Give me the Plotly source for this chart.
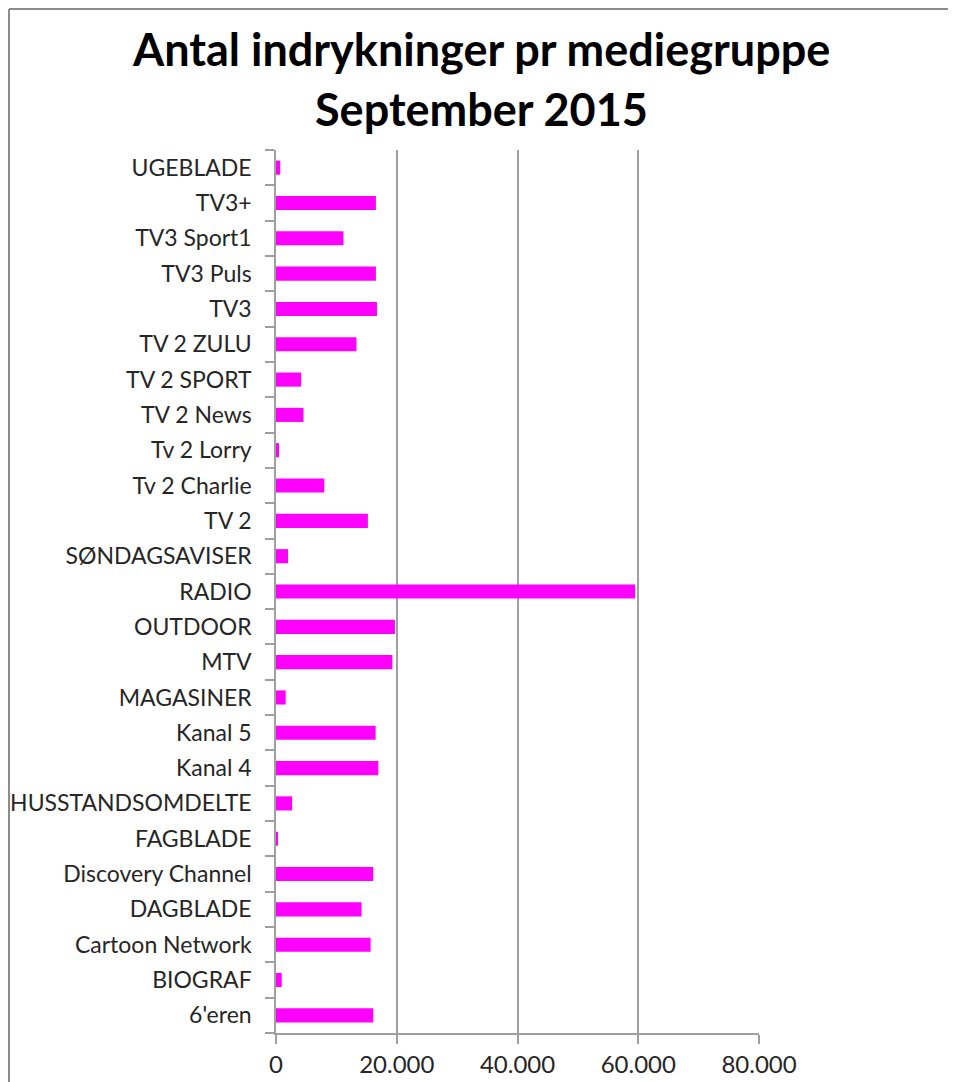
import plotly.graph_objects as go

categories = ["UGEBLADE", "TV3+", "TV3 Sport1", "TV3 Puls", "TV3", "TV 2 ZULU",
              "TV 2 SPORT", "TV 2 News", "Tv 2 Lorry", "Tv 2 Charlie", "TV 2",
              "SØNDAGSAVISER", "RADIO", "OUTDOOR", "MTV", "MAGASINER", "Kanal 5",
              "Kanal 4", "HUSSTANDSOMDELTE", "FAGBLADE", "Discovery Channel",
              "DAGBLADE", "Cartoon Network", "BIOGRAF", "6'eren"]
values = [700, 16550, 11170, 16550, 16720, 13330,
          4170, 4550, 500, 8000, 15220,
          2000, 59500, 19700, 19280, 1600, 16500,
          16950, 2670, 280, 16100,
          14170, 15670, 950, 16100]
x_ticks = [0, 20000, 40000, 60000, 80000]
title_lines = ["Antal indrykninger pr mediegruppe", "September 2015"]

# plot bottom-to-top so the first category appears at top
cats_plot = categories[::-1]
vals_plot = values[::-1]

fig = go.Figure(go.Bar(
    y=cats_plot, x=vals_plot, orientation="h",
    marker=dict(color="#FF00FF", line=dict(width=0)),
    width=0.4,
))

font_family = "Lato, 'Open Sans', sans-serif"

# the page body adds an 8px offset; figure is sized to fit inside the window
OFF = 8
W, H = 948, 1074
ML, MT = 268, 142
PW, PH = 483, 883
MR, MB = W - ML - PW, H - MT - PH

def xp(px_page):
    return (px_page - OFF - ML) / PW

def yp(py_page):
    return (H - MB - (py_page - OFF)) / PH

fig.update_layout(
    width=W, height=H,
    margin=dict(l=ML, r=MR, t=MT, b=MB),
    paper_bgcolor="white", plot_bgcolor="white",
    separators=",.",
    showlegend=False,
    font=dict(family=font_family, color="#262626"),
    bargap=0.6,
)

for txt, ypos in zip(title_lines, [49, 109]):
    fig.add_annotation(
        text="<b>" + txt + "</b>", xref="paper", yref="paper",
        x=xp(481), y=yp(ypos), xanchor="center", yanchor="middle",
        showarrow=False, font=dict(family=font_family, size=45, color="black"),
    )

fig.update_xaxes(
    range=[0, 80000], tickvals=x_ticks, tickformat=",d",
    showgrid=True, gridcolor="#a0a0a0", gridwidth=1.5,
    showline=True, linecolor="#a0a0a0", linewidth=1.5,
    ticks="outside", ticklen=9, tickcolor="#a0a0a0", tickwidth=1.5,
    tickfont=dict(size=24, family=font_family, color="#262626"),
    zeroline=False, fixedrange=True, automargin=False,
)
fig.update_yaxes(
    type="category", categoryorder="array", categoryarray=cats_plot,
    showline=True, linecolor="#a0a0a0", linewidth=1.5,
    ticks="outside", ticklen=9, tickcolor="#a0a0a0", tickwidth=1.5,
    tickson="boundaries",
    tickfont=dict(size=23, family=font_family, color="#262626"),
    showgrid=False, fixedrange=True, automargin=False,
    ticklabelstandoff=18,
)

# outer chart border (left and top edges visible)
fig.add_shape(type="line", xref="paper", yref="paper",
              x0=xp(9), x1=xp(9), y0=yp(9), y1=yp(1100),
              line=dict(color="#8c8c8c", width=2))
fig.add_shape(type="line", xref="paper", yref="paper",
              x0=xp(9), x1=xp(970), y0=yp(9), y1=yp(9),
              line=dict(color="#8c8c8c", width=2))

fig.write_html("out.html")
